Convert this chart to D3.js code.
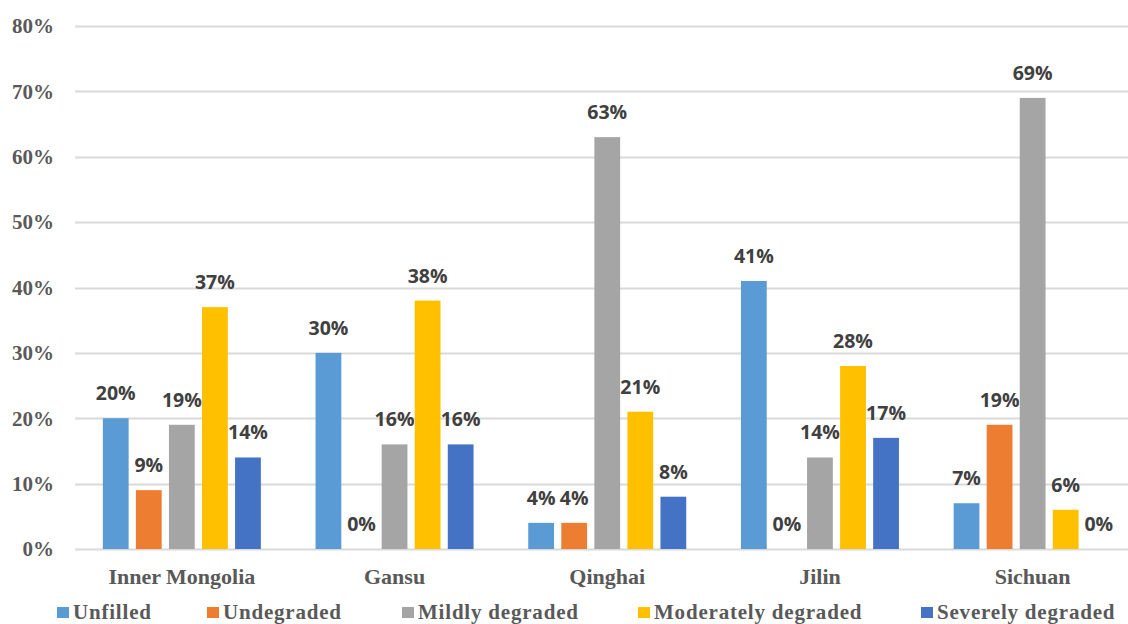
<!DOCTYPE html>
<html>
<head>
<meta charset="utf-8">
<script src="https://cdn.jsdelivr.net/npm/d3@7"></script>
<style>
  body { margin: 0; background: #fff; }
  svg { display: block; }
</style>
</head>
<body>
<div id="chart"></div>
<script>
const regions = ['Inner Mongolia', 'Gansu', 'Qinghai', 'Jilin', 'Sichuan'];
const seriesNames = ['Unfilled', 'Undegraded', 'Mildly degraded', 'Moderately degraded', 'Severely degraded'];
const seriesColors = ['#5b9bd5', '#ed7d31', '#a5a5a5', '#ffc000', '#4472c4'];
const unfilled = [20, 30, 4, 41, 7];
const undegraded = [9, 0, 4, 0, 19];
const mildly = [19, 16, 63, 14, 69];
const moderately = [37, 38, 21, 28, 6];
const severely = [14, 16, 8, 17, 0];
const yTicks = [0, 10, 20, 30, 40, 50, 60, 70, 80];
// legend item x positions (square left edge)
const legendX = [57, 207, 402, 638, 921];

const series = [unfilled, undegraded, mildly, moderately, severely];

const width = 1128;
const height = 624;

const svg = d3.select('#chart').append('svg')
  .attr('width', width)
  .attr('height', height);

const x0 = d3.scaleBand()
  .domain(regions)
  .range([75.5, 1139])
  .paddingInner(0)
  .paddingOuter(0);

const x1 = d3.scaleBand()
  .domain(seriesNames)
  .range([0, 158])
  .paddingInner(0.22);

const y = d3.scaleLinear()
  .domain([0, 80])
  .range([549, 26]);

// gridlines
svg.append('g')
  .selectAll('line')
  .data(yTicks)
  .enter()
  .append('line')
  .attr('x1', 75)
  .attr('x2', width)
  .attr('y1', (d) => Math.round(y(d)) + 0.5)
  .attr('y2', (d) => Math.round(y(d)) + 0.5)
  .attr('stroke', '#d9d9d9')
  .attr('stroke-width', 2);

// y tick labels
svg.append('g')
  .selectAll('text')
  .data(yTicks)
  .enter()
  .append('text')
  .attr('x', 54)
  .attr('y', (d) => y(d))
  .attr('dy', '0.35em')
  .attr('text-anchor', 'end')
  .style('font-family', '"Liberation Serif", "Times New Roman", serif')
  .style('font-weight', 'bold')
  .style('font-size', '21px')
  .style('fill', '#595959')
  .text((d) => `${d}%`);

// bars
const groups = svg.append('g')
  .selectAll('g')
  .data(regions)
  .enter()
  .append('g')
  .attr('transform', (d) => `translate(${x0(d) + (x0.bandwidth() - 158) / 2},0)`);

const cells = groups.selectAll('g')
  .data((region, i) => seriesNames.map((name, j) => ({ name, value: series[j][i], color: seriesColors[j] })))
  .enter()
  .append('g');

cells.append('rect')
  .attr('x', (d) => x1(d.name))
  .attr('width', x1.bandwidth())
  .attr('y', (d) => y(d.value))
  .attr('height', (d) => y(0) - y(d.value))
  .attr('fill', (d) => d.color);

cells.append('text')
  .attr('x', (d) => x1(d.name) + x1.bandwidth() / 2)
  .attr('y', (d) => y(d.value) - 18)
  .attr('text-anchor', 'middle')
  .style('font-family', '"Open Sans", "Liberation Sans", sans-serif')
  .style('font-weight', 'bold')
  .style('font-size', '19.5px')
  .style('fill', '#404040')
  .text((d) => `${d.value}%`);

// category labels
svg.append('g')
  .selectAll('text')
  .data(regions)
  .enter()
  .append('text')
  .attr('x', (d) => x0(d) + x0.bandwidth() / 2)
  .attr('y', 584)
  .attr('text-anchor', 'middle')
  .style('font-family', '"Liberation Serif", "Times New Roman", serif')
  .style('font-weight', 'bold')
  .style('font-size', '22px')
  .style('fill', '#595959')
  .text((d) => d);

// legend
const legend = svg.append('g')
  .selectAll('g')
  .data(seriesNames)
  .enter()
  .append('g')
  .attr('transform', (d, i) => `translate(${legendX[i]},0)`);

legend.append('rect')
  .attr('x', 0)
  .attr('y', 607)
  .attr('width', 12)
  .attr('height', 11)
  .attr('fill', (d, i) => seriesColors[i]);

legend.append('text')
  .attr('x', 16)
  .attr('y', 619)
  .style('font-family', '"Liberation Serif", "Times New Roman", serif')
  .style('font-weight', 'bold')
  .style('font-size', '21px')
  .style('letter-spacing', '0.8px')
  .style('fill', '#595959')
  .text((d) => d);
</script>
</body>
</html>
